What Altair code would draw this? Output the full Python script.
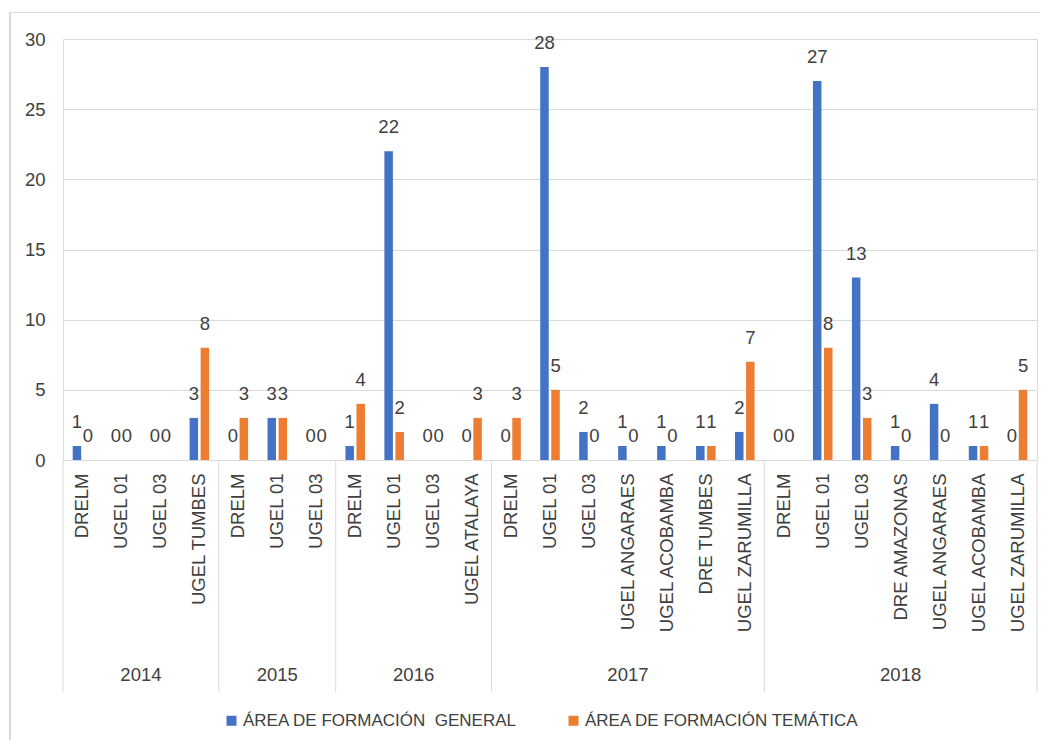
import altair as alt
import pandas as pd

anios = ["2014"] * 4 + ["2015"] * 3 + ["2016"] * 4 + ["2017"] * 7 + ["2018"] * 7
instituciones = [
    "DRELM", "UGEL 01", "UGEL 03", "UGEL TUMBES",
    "DRELM", "UGEL 01", "UGEL 03",
    "DRELM", "UGEL 01", "UGEL 03", "UGEL ATALAYA",
    "DRELM", "UGEL 01", "UGEL 03", "UGEL ANGARAES", "UGEL ACOBAMBA", "DRE TUMBES", "UGEL ZARUMILLA",
    "DRELM", "UGEL 01", "UGEL 03", "DRE AMAZONAS", "UGEL ANGARAES", "UGEL ACOBAMBA", "UGEL ZARUMILLA",
]
general = [1, 0, 0, 3, 0, 3, 0, 1, 22, 0, 0, 0, 28, 2, 1, 1, 1, 2, 0, 27, 13, 1, 4, 1, 0]
tematica = [0, 0, 0, 8, 3, 3, 0, 4, 2, 0, 3, 3, 5, 0, 0, 0, 1, 7, 0, 8, 3, 0, 0, 1, 5]
series = ["ÁREA DE FORMACIÓN\u00a0 GENERAL", "ÁREA DE FORMACIÓN TEMÁTICA"]
colores = ["#4472C4", "#ED7D31"]

FONT = "Liberation Sans"
TXT = "#404040"
GRID = "#d9d9d9"
W, H = 974, 421

keys = [f"{a} {n}" for a, n in zip(anios, instituciones)]
rows = []
for k, g, t in zip(keys, general, tematica):
    rows.append({"key": k, "serie": series[0], "valor": g})
    rows.append({"key": k, "serie": series[1], "valor": t})
df = pd.DataFrame(rows)

# year groups (derived from anios)
years = []
for a in anios:
    if a not in years:
        years.append(a)
counts = [anios.count(y) for y in years]
starts = [sum(counts[:i]) for i in range(len(counts))]
ydf = pd.DataFrame({"anio": years, "mid": [s + c / 2 for s, c in zip(starts, counts)]})
sdf = pd.DataFrame({"pos": starts + [len(anios)]})
n = len(anios)

xband = alt.X("key:N", sort=keys, title=None,
              scale=alt.Scale(paddingInner=0, paddingOuter=0),
              axis=alt.Axis(labelExpr="substring(datum.label, 5)", labelAngle=-90,
                            labelPadding=13, ticks=False, domainColor=GRID,
                            labelFont=FONT, labelFontSize=18.5, labelColor=TXT,
                            grid=False))
xoff = alt.XOffset("serie:N", sort=series,
                   scale=alt.Scale(paddingInner=0.23, paddingOuter=0.88))
yenc = alt.Y("valor:Q", title=None,
             scale=alt.Scale(domain=[0, 30], nice=False),
             axis=alt.Axis(values=[0, 5, 10, 15, 20, 25, 30], ticks=False, domain=False,
                           gridColor=GRID, labelPadding=18, labelFont=FONT,
                           labelFontSize=18.5, labelColor=TXT))

bars = alt.Chart(df).mark_bar().encode(
    x=xband, xOffset=xoff, y=yenc,
    color=alt.Color("serie:N", sort=series, title=None,
                    scale=alt.Scale(domain=series, range=colores),
                    legend=alt.Legend(orient="none", legendX=160, legendY=673,
                                      direction="horizontal", symbolType="square",
                                      symbolSize=100, labelFont=FONT, labelFontSize=17,
                                      labelColor=TXT, columnPadding=48, labelOffset=3,
                                      labelLimit=400)),
)
labels = alt.Chart(df).mark_text(baseline="bottom", dy=-14, font=FONT, fontSize=18.5,
                                 color=TXT).encode(
    x=xband, xOffset=xoff, y=yenc, text="valor:Q")

xq = lambda f: alt.X(f, scale=alt.Scale(domain=[0, n], nice=False, zero=False), axis=None)

seps = alt.Chart(sdf).mark_rule(color=GRID, strokeWidth=1).encode(
    x=xq("pos:Q"), y=alt.value(H), y2=alt.value(653))
yrs = alt.Chart(ydf).mark_text(baseline="middle", font=FONT, fontSize=18.5,
                               color=TXT).encode(
    x=xq("mid:Q"), y=alt.value(636), text="anio:N")

border_v = alt.Chart(sdf).mark_rule(color=GRID).encode(
    x=alt.value(-53), y=alt.value(-26.5), y2=alt.value(800))
border_h = alt.Chart(sdf).mark_rule(color=GRID).encode(
    x=alt.value(-53), x2=alt.value(1100), y=alt.value(-26.5))

chart = alt.layer(
    alt.layer(bars, labels),
    seps, yrs, border_v, border_h,
).resolve_scale(x="independent").properties(
    width=W, height=H,
    autosize=alt.AutoSizeParams(type="none"),
    padding={"left": 55, "top": 31, "right": 3, "bottom": 280},
).configure_view(stroke=None).configure(background="white")

chart.save("out.html", embed_options={"renderer": "svg", "actions": False})
